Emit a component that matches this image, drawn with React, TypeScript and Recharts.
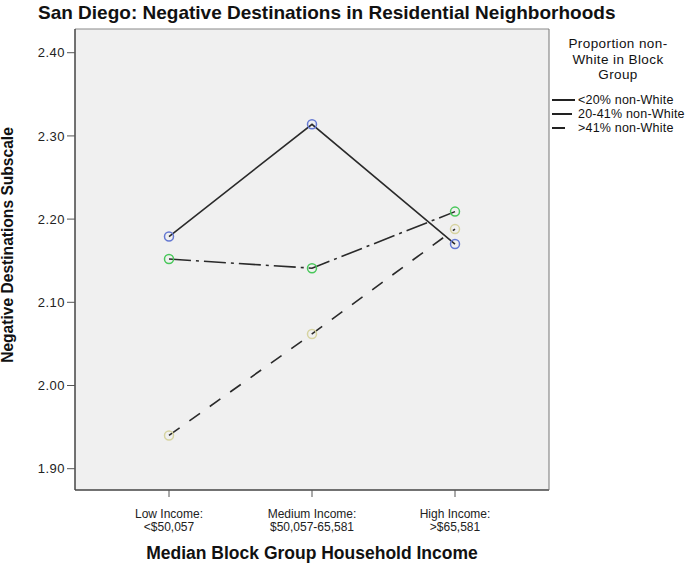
import React from "react";
import { LineChart, Line, XAxis, YAxis, CartesianGrid, Legend } from "recharts";

const categories = ["Low Income:\n<$50,057", "Medium Income:\n$50,057-65,581", "High Income:\n>$65,581"];
const under20 = [2.179, 2.314, 2.17];
const from20to41 = [2.152, 2.141, 2.209];
const over41 = [1.94, 2.062, 2.188];
const seriesNames = ["<20% non-White", "20-41% non-White", ">41% non-White"];
const yTicks = [1.9, 2.0, 2.1, 2.2, 2.3, 2.4];

const data = categories.map((c, i) => ({
  cat: c,
  a: under20[i],
  b: from20to41[i],
  c: over41[i],
}));

const FONT = "'Liberation Sans', Arial, sans-serif";

const series = [
  { key: "a", name: seriesNames[0], dot: "#6478d2", dash: undefined },
  { key: "b", name: seriesNames[1], dot: "#48c75a", dash: "22 5 3 5" },
  { key: "c", name: seriesNames[2], dot: "#d6d3a0", dash: "13 12" },
];

function XTick({ x, y, payload }: any) {
  const lines = String(payload.value).split("\n");
  return (
    <text x={x} y={y} textAnchor="middle" fontSize={12} fill="#222" fontFamily={FONT}>
      {lines.map((l, i) => (
        <tspan key={i} x={x} dy={i === 0 ? 19 : 12.5}>
          {l}
        </tspan>
      ))}
    </text>
  );
}

function LegendBox() {
  const swatch = [23, 20, 13];
  return (
    <div style={{ fontFamily: FONT, color: "#111", width: 136 }}>
      <div style={{ textAlign: "center", fontSize: 13.5, lineHeight: "15.5px", letterSpacing: 0.4 }}>
        Proportion non-
        <br />
        White in Block
        <br />
        Group
      </div>
      <div style={{ marginTop: 10 }}>
        {series.map((s, i) => (
          <div key={s.key} style={{ display: "flex", alignItems: "center", height: 14, fontSize: 12.5 }}>
            <svg width={28} height={14}>
              <line x1={2} x2={2 + swatch[i]} y1={7} y2={7} stroke="#222" strokeWidth={2} />
            </svg>
            <span style={{ letterSpacing: 0.2 }}>{s.name}</span>
          </div>
        ))}
      </div>
    </div>
  );
}

export default function App() {
  return (
    <div style={{ position: "absolute", left: 0, top: 0, width: 686, height: 565, background: "#fff", fontFamily: FONT }}>
      <div
        style={{
          position: "absolute",
          left: 38,
          top: 2,
          fontSize: 19,
          fontWeight: "bold",
          whiteSpace: "nowrap",
          color: "#111",
        }}
      >
        San Diego: Negative Destinations in Residential Neighborhoods
      </div>
      <LineChart
        width={686}
        height={565}
        data={data}
        margin={{ top: 28, right: 136, bottom: 15, left: 15 }}
        style={{ position: "absolute", left: 0, top: 0 }}
      >
        <CartesianGrid horizontal={false} vertical={false} fill="#f0f0f0" />
        <XAxis
          dataKey="cat"
          type="category"
          padding={{ left: 94, right: 94 }}
          tick={<XTick />}
          tickSize={7}
          axisLine={{ stroke: "#444", strokeWidth: 1.5 }}
          tickLine={{ stroke: "#555" }}
          height={60}
          interval={0}
        />
        <XAxis
          xAxisId="top"
          dataKey="cat"
          orientation="top"
          height={1}
          tick={false}
          tickLine={false}
          axisLine={{ stroke: "#888" }}
        />
        <YAxis
          domain={[1.8744, 2.4285]}
          ticks={yTicks}
          allowDataOverflow
          tickFormatter={(v: number) => v.toFixed(2)}
          tick={{ fontSize: 13, fill: "#222", fontFamily: FONT, letterSpacing: 0.5 }}
          tickSize={8}
          axisLine={{ stroke: "#444", strokeWidth: 1.5 }}
          tickLine={{ stroke: "#555" }}
          width={60}
        />
        <YAxis
          yAxisId="right"
          orientation="right"
          width={1}
          tick={false}
          tickLine={false}
          axisLine={{ stroke: "#777" }}
        />
        <Legend
          layout="vertical"
          align="center"
          verticalAlign="middle"
          content={<LegendBox />}
          wrapperStyle={{ position: "absolute", left: 550, top: 36, width: 136, height: 120 }}
        />
        {series.map((s) => (
          <Line
            key={s.key}
            dataKey={s.key}
            name={s.name}
            stroke="#2a2a2a"
            strokeWidth={1.6}
            strokeDasharray={s.dash}
            dot={{ r: 4.5, stroke: s.dot, strokeWidth: 1.5, fill: "none", strokeDasharray: "none" }}
            isAnimationActive={false}
          />
        ))}
      </LineChart>
      <div
        style={{
          position: "absolute",
          left: 8,
          top: 245,
          transform: "translate(-50%, -50%) rotate(-90deg)",
          fontSize: 15.6,
          fontWeight: "bold",
          whiteSpace: "nowrap",
          color: "#111",
        }}
      >
        Negative Destinations Subscale
      </div>
      <div
        style={{
          position: "absolute",
          left: 312,
          top: 543,
          transform: "translateX(-50%)",
          fontSize: 17.5,
          fontWeight: "bold",
          whiteSpace: "nowrap",
          color: "#111",
        }}
      >
        Median Block Group Household Income
      </div>
    </div>
  );
}
